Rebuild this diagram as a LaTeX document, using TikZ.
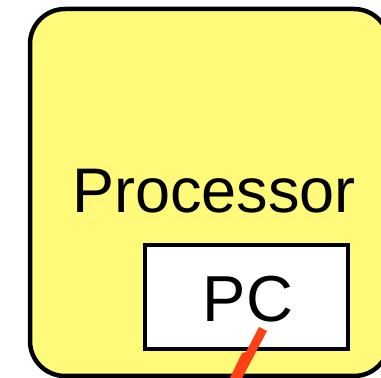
\documentclass[tikz,border=0pt]{standalone}
\usepackage{fontspec}
\setmainfont{Liberation Sans}
\definecolor{procyellow}{RGB}{255,250,122}
\definecolor{linkred}{RGB}{255,64,20}
\tikzset{
  procbox/.style={draw=black, fill=procyellow, rounded corners=35pt, line width=4.5pt, inner sep=0pt},
  regbox/.style={draw=black, fill=white, line width=4pt, inner sep=0pt},
  bigtext/.style={font=\fontsize{63}{63}\selectfont, inner sep=0pt, anchor=base},
}
\begin{document}
\begin{tikzpicture}[x=1pt,y=1pt]
\useasboundingbox (0,0) rectangle (381,378);
\clip (0,0) rectangle (381,378);
\node[procbox, minimum width=359pt, minimum height=367pt] (proc) at (209.5,185.5) {};
\node[bigtext] (proclabel) at (214,165) {Processor};
\node[regbox, minimum width=203pt, minimum height=104pt] (pc) at (246.5,81) {};
\node[bigtext, font=\fontsize{65}{65}\selectfont] (pclabel) at (248,56) {PC};
\coordinate (wireA) at (259,51);
\coordinate (wireB) at (267,47);
\coordinate (wireC) at (240,-4);
\coordinate (wireD) at (228,-4);
\coordinate (wireE) at (242,25);
\coordinate (wireF) at (246,26);
\fill[linkred] (wireA) -- (wireB) -- (wireC) -- (wireD) -- (wireE) -- (wireF) -- cycle;
\end{tikzpicture}
\end{document}
